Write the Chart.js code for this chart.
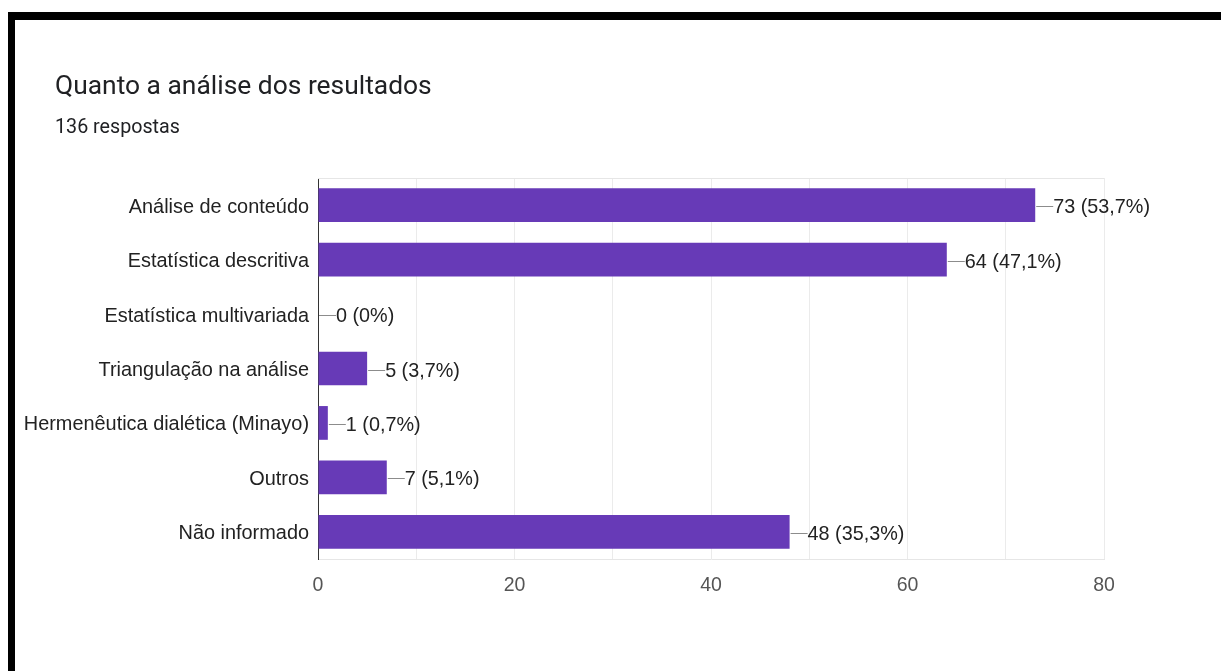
<!DOCTYPE html>
<html lang="pt">
<head>
<meta charset="utf-8">
<title>Quanto a análise dos resultados</title>
<script src="https://cdn.jsdelivr.net/npm/chart.js@4.4.1/dist/chart.umd.min.js"></script>
<style>
  html, body { margin: 0; padding: 0; background: #fff; }
  body { width: 1221px; height: 671px; position: relative; overflow: hidden; }
  #frameTop { position: absolute; left: 8px; top: 12px; width: 1213px; height: 8px; background: #000; }
  #frameLeft { position: absolute; left: 8px; top: 12px; width: 7px; height: 659px; background: #000; }
  #title {
    position: absolute; left: 55px; top: 70px;
    font-family: Roboto, sans-serif; font-size: 26.4px; color: #202124;
  }
  #subtitle {
    position: absolute; left: 55px; top: 115px;
    font-family: Roboto, sans-serif; font-size: 19.7px; color: #202124;
  }
  #chartBox { position: absolute; left: 0; top: 0; width: 1221px; height: 671px; }
</style>
</head>
<body>
<div id="chartBox"><canvas id="resultsChart" width="1221" height="671"></canvas></div>
<div id="frameTop"></div>
<div id="frameLeft"></div>
<div id="title">Quanto a análise dos resultados</div>
<div id="subtitle">136 respostas</div>

<script>
// Data
const categories = [
  "Análise de conteúdo",
  "Estatística descritiva",
  "Estatística multivariada",
  "Triangulação na análise",
  "Hermenêutica dialética (Minayo)",
  "Outros",
  "Não informado"
];
const counts = [73, 64, 0, 5, 1, 7, 48];
const percentLabels = ["53,7%", "47,1%", "0%", "3,7%", "0,7%", "5,1%", "35,3%"];
const xTicks = [0, 20, 40, 60, 80];

const fontFamily = "'Liberation Sans', Arial, sans-serif";
const labelFont = "19.8px " + fontFamily;

// Leader line + "n (p%)" after each bar, plus the light top border
const valueLabels = {
  id: "valueLabels",
  beforeDatasetsDraw(chart) {
    const { ctx, chartArea } = chart;
    ctx.save();
    ctx.strokeStyle = "#e6e6e6";
    ctx.lineWidth = 1;
    ctx.beginPath();
    ctx.moveTo(chartArea.left, chartArea.top + 0.5);
    ctx.lineTo(chartArea.right, chartArea.top + 0.5);
    ctx.stroke();
    ctx.restore();
  },
  afterDatasetsDraw(chart) {
    const { ctx } = chart;
    const xScale = chart.scales.x;
    const yScale = chart.scales.y;
    ctx.save();
    ctx.font = labelFont;
    ctx.textBaseline = "middle";
    ctx.textAlign = "left";
    counts.forEach((v, i) => {
      const x = xScale.getPixelForValue(v);
      const y = Math.round(yScale.getPixelForValue(i)) + 1.5;
      ctx.strokeStyle = "#8c8c8c";
      ctx.lineWidth = 1;
      ctx.beginPath();
      ctx.moveTo(x + 1, y);
      ctx.lineTo(x + 18, y);
      ctx.stroke();
      ctx.fillStyle = "#222";
      ctx.fillText(v + " (" + percentLabels[i] + ")", x + 18, y + 1);
    });
    ctx.restore();
  }
};

const chart = new Chart(document.getElementById("resultsChart"), {
  type: "bar",
  data: {
    labels: categories,
    datasets: [{
      data: counts,
      backgroundColor: "#673ab7",
      borderWidth: 0,
      categoryPercentage: 1,
      barPercentage: 0.62
    }]
  },
  options: {
    indexAxis: "y",
    responsive: false,
    animation: false,
    devicePixelRatio: 1,
    layout: { padding: { left: 0, top: 178, right: 117, bottom: 71 } },
    plugins: {
      legend: { display: false },
      tooltip: { enabled: false }
    },
    scales: {
      x: {
        min: 0,
        max: 80,
        afterBuildTicks: (scale) => {
          const t = [];
          for (let v = 0; v <= 80; v += 10) t.push({ value: v });
          scale.ticks = t;
        },
        afterFit: (scale) => { scale.height = 41; },
        grid: {
          drawTicks: false,
          color: (c) => (c.tick && c.tick.value === 0 ? "rgba(0,0,0,0)" : "#ebebeb")
        },
        border: { display: true, color: "#e6e6e6" },
        ticks: {
          padding: 15,
          color: "#555",
          font: { family: fontFamily, size: 19.5 },
          maxRotation: 0,
          autoSkip: false,
          callback: (v) => (xTicks.includes(v) ? String(v) : "")
        }
      },
      y: {
        afterFit: (scale) => { scale.width = 318; },
        grid: { display: false, drawTicks: false },
        border: { display: true, color: "#333", width: 1 },
        ticks: {
          padding: 9,
          labelOffset: 2,
          color: "#222",
          font: { family: fontFamily, size: 19.9 }
        }
      }
    }
  },
  plugins: [valueLabels]
});
</script>
</body>
</html>
